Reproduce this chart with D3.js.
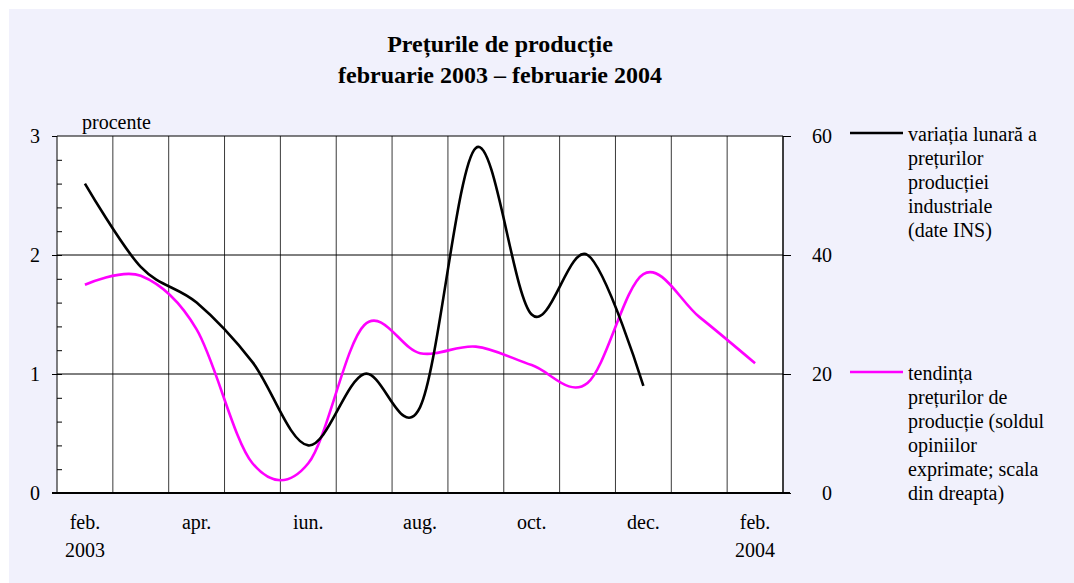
<!DOCTYPE html>
<html>
<head>
<meta charset="utf-8">
<script src="https://cdn.jsdelivr.net/npm/d3@7"></script>
<style>
  body { margin: 0; background: #fff; }
  svg { display: block; }
  text { font-family: "Liberation Serif", "Times New Roman", serif; fill: #000; }
  .axis path, .axis line { stroke: #000; }
  .axis text { font-size: 20px; font-family: "Liberation Serif", "Times New Roman", serif; }
</style>
</head>
<body>
<div id="chart"></div>
<script>
// months feb 2003 .. feb 2004
const months = ['feb.', 'mar.', 'apr.', 'mai', 'iun.', 'iul.', 'aug.', 'sep.', 'oct.', 'nov.', 'dec.', 'ian.', 'feb.'];
const monthLabels = ['feb.', '', 'apr.', '', 'iun.', '', 'aug.', '', 'oct.', '', 'dec.', '', 'feb.'];
const yearLabels = ['2003', '', '', '', '', '', '', '', '', '', '', '', '2004'];

// monthly change of industrial producer prices, % (left scale), feb..dec 2003
const monthlyChange = [2.6, 1.9, 1.6, 1.1, 0.4, 1.0, 0.72, 2.9, 1.5, 2.0, 0.9];
// price trend, balance of opinions (right scale), feb 2003..feb 2004
const priceTrend = [35, 36.5, 27.5, 5, 5, 28.2, 23.5, 24.6, 21.5, 18.5, 36.8, 29.6, 21.8];

const leftTicks = [0, 1, 2, 3];
const rightTicks = [0, 20, 40, 60];

const FONT = '"Liberation Serif", "Times New Roman", serif';
const W = 1074, H = 583;
const plot = { left: 57, right: 783, top: 136, bottom: 493 };

const svg = d3.select('#chart').append('svg')
    .attr('width', W)
    .attr('height', H);

// panel background
svg.append('rect')
    .attr('x', 9).attr('y', 9)
    .attr('width', W - 9).attr('height', H - 9)
    .attr('fill', '#f1f1fc');

// title
const title = svg.append('text')
    .attr('text-anchor', 'middle')
    .attr('font-family', FONT)
    .style('font-size', '24px')
    .style('font-weight', 'bold');
title.append('tspan').attr('x', 500).attr('y', 52).text('Prețurile de producție');
title.append('tspan').attr('x', 500).attr('y', 83).text('februarie 2003 – februarie 2004');

const x = d3.scaleBand()
    .domain(d3.range(months.length))
    .range([plot.left, plot.right])
    .padding(0);
const cx = i => x(i) + x.bandwidth() / 2;

const y = d3.scaleLinear().domain([0, 3]).range([plot.bottom, plot.top]);
const yR = d3.scaleLinear().domain([0, 60]).range([plot.bottom, plot.top]);

// plot area
svg.append('rect')
    .attr('x', plot.left).attr('y', plot.top)
    .attr('width', plot.right - plot.left)
    .attr('height', plot.bottom - plot.top)
    .attr('fill', '#fff');

// vertical grid lines between months
const g = svg.append('g');
d3.range(1, months.length).forEach(i => {
    g.append('line')
        .attr('x1', x(i)).attr('x2', x(i))
        .attr('y1', plot.top).attr('y2', plot.bottom)
        .attr('stroke', '#3a3a3a')
        .attr('stroke-width', 1);
});

// horizontal grid lines
[1, 2].forEach(v => {
    g.append('line')
        .attr('x1', plot.left).attr('x2', plot.right)
        .attr('y1', y(v)).attr('y2', y(v))
        .attr('stroke', '#000')
        .attr('stroke-width', 1);
});

// top border
g.append('line')
    .attr('x1', plot.left).attr('x2', plot.right)
    .attr('y1', plot.top).attr('y2', plot.top)
    .attr('stroke', '#000');

// left axis, major ticks outside
const leftAxis = svg.append('g')
    .attr('class', 'axis')
    .attr('transform', `translate(${plot.left},0)`)
    .call(d3.axisLeft(y).tickValues(leftTicks).tickSize(5).tickPadding(12).tickFormat(d3.format('d')));
leftAxis.select('.domain').remove();
leftAxis.selectAll('text').attr('font-family', FONT);
svg.append('line')
    .attr('x1', plot.left).attr('x2', plot.left)
    .attr('y1', plot.top).attr('y2', plot.bottom)
    .attr('stroke', '#000');

// left minor ticks inside
const minor = svg.append('g')
    .attr('class', 'axis')
    .attr('transform', `translate(${plot.left},0)`)
    .call(d3.axisRight(y).tickValues(d3.range(0.2, 3, 0.2)).tickSize(5).tickFormat(''));
minor.select('.domain').remove();

// right axis
const rightAxis = svg.append('g')
    .attr('class', 'axis')
    .attr('transform', `translate(${plot.right},0)`)
    .call(d3.axisRight(yR).tickValues(rightTicks).tickSize(8).tickFormat(d3.format('d')));
rightAxis.select('.domain').remove();
rightAxis.selectAll('text').attr('text-anchor', 'end').attr('x', 49).attr('font-family', FONT);
svg.append('line')
    .attr('x1', plot.right).attr('x2', plot.right)
    .attr('y1', plot.top).attr('y2', plot.bottom)
    .attr('stroke', '#000')
    .attr('stroke-width', 1.5);

// axis label
svg.append('text')
    .attr('x', 82).attr('y', 129)
    .attr('font-family', FONT)
    .style('font-size', '20px')
    .text('procente');

// x labels
monthLabels.forEach((m, i) => {
    if (m) {
        svg.append('text')
            .attr('x', cx(i)).attr('y', 529)
            .attr('text-anchor', 'middle')
            .attr('font-family', FONT)
            .style('font-size', '20px')
            .text(m);
    }
    if (yearLabels[i]) {
        svg.append('text')
            .attr('x', cx(i)).attr('y', 557)
            .attr('text-anchor', 'middle')
            .attr('font-family', FONT)
            .style('font-size', '20px')
            .text(yearLabels[i]);
    }
});

// series
const curve = d3.curveCardinal.tension(0);
const lineL = d3.line().x((d, i) => cx(i)).y(d => y(d)).curve(curve);
const lineR = d3.line().x((d, i) => cx(i)).y(d => yR(d)).curve(curve);

svg.append('path')
    .attr('d', lineR(priceTrend))
    .attr('fill', 'none')
    .attr('stroke', '#ff00ff')
    .attr('stroke-width', 2.6);

svg.append('path')
    .attr('d', lineL(monthlyChange))
    .attr('fill', 'none')
    .attr('stroke', '#000')
    .attr('stroke-width', 2.6);

// bottom axis line (zero)
svg.append('line')
    .attr('x1', plot.left - 5).attr('x2', plot.right + 7)
    .attr('y1', plot.bottom).attr('y2', plot.bottom)
    .attr('stroke', '#000')
    .attr('stroke-width', 2);

// legend
const legend = [
    { color: '#000', y: 133, lines: ['variația lunară a', 'prețurilor', 'producției', 'industriale', '(date INS)'] },
    { color: '#ff00ff', y: 372, lines: ['tendința', 'prețurilor de', 'producție (soldul', 'opiniilor', 'exprimate; scala', 'din dreapta)'] }
];
legend.forEach(l => {
    svg.append('line')
        .attr('x1', 850).attr('x2', 903)
        .attr('y1', l.y).attr('y2', l.y)
        .attr('stroke', l.color)
        .attr('stroke-width', 2.6);
    const t = svg.append('text')
        .attr('font-family', FONT)
        .style('font-size', '20px');
    l.lines.forEach((s, i) => {
        t.append('tspan')
            .attr('x', 908)
            .attr('y', l.y + 8 + i * 24)
            .text(s);
    });
});
</script>
</body>
</html>
